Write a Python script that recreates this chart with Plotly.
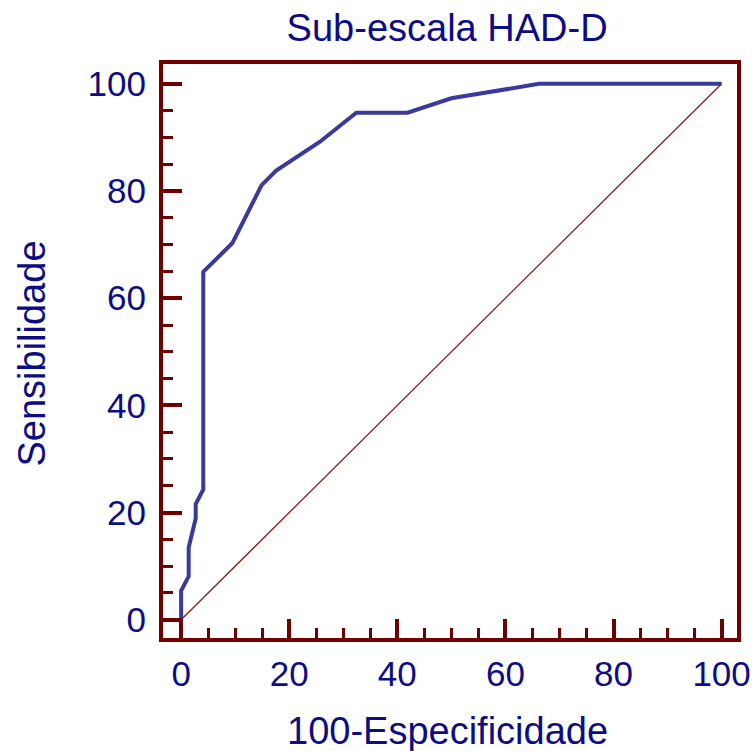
import plotly.graph_objects as go

fpr = [0, 0, 1.4, 1.4, 2.7, 2.7, 4.1, 4.1, 9.5, 14.9, 17.6, 25.7, 32.4, 41.9, 50.0, 66.2, 100]
tpr = [0, 5.4, 8.1, 13.5, 18.9, 21.6, 24.3, 64.9, 70.3, 81.1, 83.8, 89.2, 94.6, 94.6, 97.3, 100, 100]
diag_x = [0, 100]
diag_y = [0, 100]
tick_vals = [0, 20, 40, 60, 80, 100]

frame = "#700000"
text_c = "#0c0c84"
curve_c = "#3a3a9c"
font = "Liberation Sans, Arial, sans-serif"

fig = go.Figure()
fig.add_trace(go.Scatter(x=diag_x, y=diag_y, mode="lines",
                         line=dict(color="#8b1a1a", width=1.3), showlegend=False))
fig.add_trace(go.Scatter(x=fpr, y=tpr, mode="lines",
                         line=dict(color=curve_c, width=4), showlegend=False))

axis_common = dict(
    showgrid=False, zeroline=False, showline=True, linecolor=frame, linewidth=4,
    mirror=True, ticks="inside", ticklen=19, tickwidth=4, tickcolor=frame,
    tickvals=tick_vals, tickfont=dict(family=font, size=35, color=text_c),
    automargin=False,
    minor=dict(dtick=5, ticks="inside", ticklen=10, tickwidth=3, tickcolor=frame, showgrid=False),
)

fig.update_layout(
    width=754, height=751,
    margin=dict(l=163, r=17, t=64, b=113),
    paper_bgcolor="white", plot_bgcolor="white",
    title=dict(text="Sub-escala HAD-D", x=0.593, xanchor="center", y=0.963, yanchor="middle",
               font=dict(family=font, size=38, color=text_c)),
    xaxis=dict(range=[-3.35, 102.85], ticklabelstandoff=2, **axis_common),
    yaxis=dict(range=[-3.4, 103.7], ticklabelstandoff=6, **axis_common),
    annotations=[
        dict(text="100-Especificidade", xref="paper", yref="paper", x=0.4948, y=-0.162,
             xanchor="center", yanchor="middle", showarrow=False,
             font=dict(family=font, size=38, color=text_c)),
        dict(text="Sensibilidade", xref="paper", yref="paper", x=-0.229, y=0.4948,
             xanchor="center", yanchor="middle", textangle=-90, showarrow=False,
             font=dict(family=font, size=38, color=text_c)),
    ],
)

fig.write_html("out.html")
